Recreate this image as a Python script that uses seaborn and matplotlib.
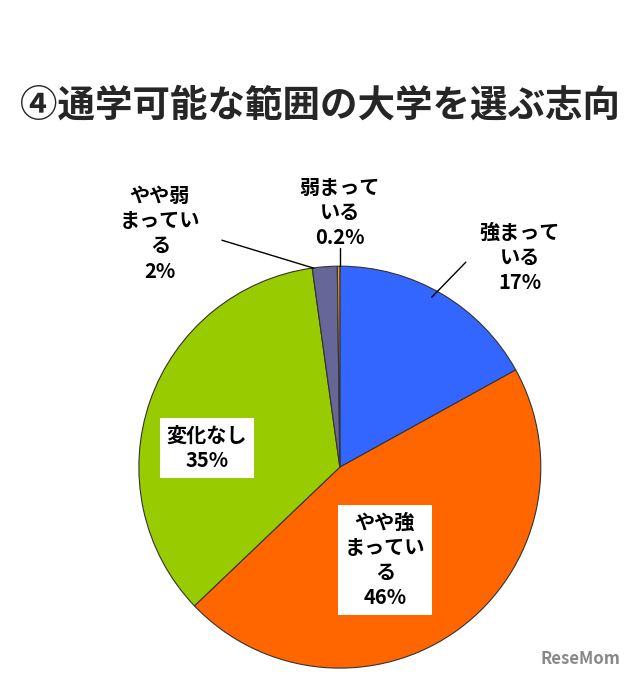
import matplotlib
matplotlib.use("Agg")
import matplotlib.pyplot as plt
import seaborn as sns

sns.set_theme(style="white")
plt.rcParams['font.family'] = ['Noto Sans CJK JP', 'DejaVu Sans']

categories = ["強まっている", "やや強まっている", "変化なし", "やや弱まっている", "弱まっている"]
values = [17, 46, 35, 2, 0.2]
colors = ["#3366FF", "#FF6600", "#99CC00", "#666699", "#FF9900"]

fig = plt.figure(figsize=(6.4, 6.89), dpi=100)
ax = fig.add_axes([0.531 - 0.314, 0.322 - 0.2917, 0.628, 0.5834])
ax.pie(values, colors=colors, startangle=90, counterclock=False,
       wedgeprops=dict(edgecolor="#333333", linewidth=0.8))
ax.set_xlim(-1, 1); ax.set_ylim(-1, 1); ax.set_aspect('equal')

def d(px, py):
    return ((px - 340) / 201, (467 - py) / 201)

fs = 14.5
def lab(px, py, txt, box=False):
    kw = dict(ha="center", va="center", fontsize=fs, fontweight="bold",
              linespacing=1.25, color="black", clip_on=False)
    if box:
        kw["bbox"] = dict(facecolor="white", edgecolor="none", pad=5)
    ax.text(*d(px, py), txt, **kw)

lab(520, 257, "強まって\nいる\n17%")
lab(340, 212, "弱まって\nいる\n0.2%")
lab(160, 233, "やや弱\nまってい\nる\n2%")
lab(207, 448, "変化なし\n35%", box=True)
lab(385, 560, "やや強\nまってい\nる\n46%", box=True)

for a, b in [((466, 262), (432, 297)), ((222, 240), (314, 268)), ((340, 248), (340, 266))]:
    x0, y0 = d(*a); x1, y1 = d(*b)
    ax.plot([x0, x1], [y0, y1], color="black", lw=1, clip_on=False)

fig.text(0.5, 1 - 105 / 689, "④通学可能な範囲の大学を選ぶ志向", ha="center", va="center",
         fontsize=27, fontweight="bold")
fig.text(0.97, 0.03, "ReseMom", ha="right", va="bottom", fontsize=12,
         fontweight="bold", color="#888888")
fig.savefig("out.png", dpi=100, facecolor="white")
